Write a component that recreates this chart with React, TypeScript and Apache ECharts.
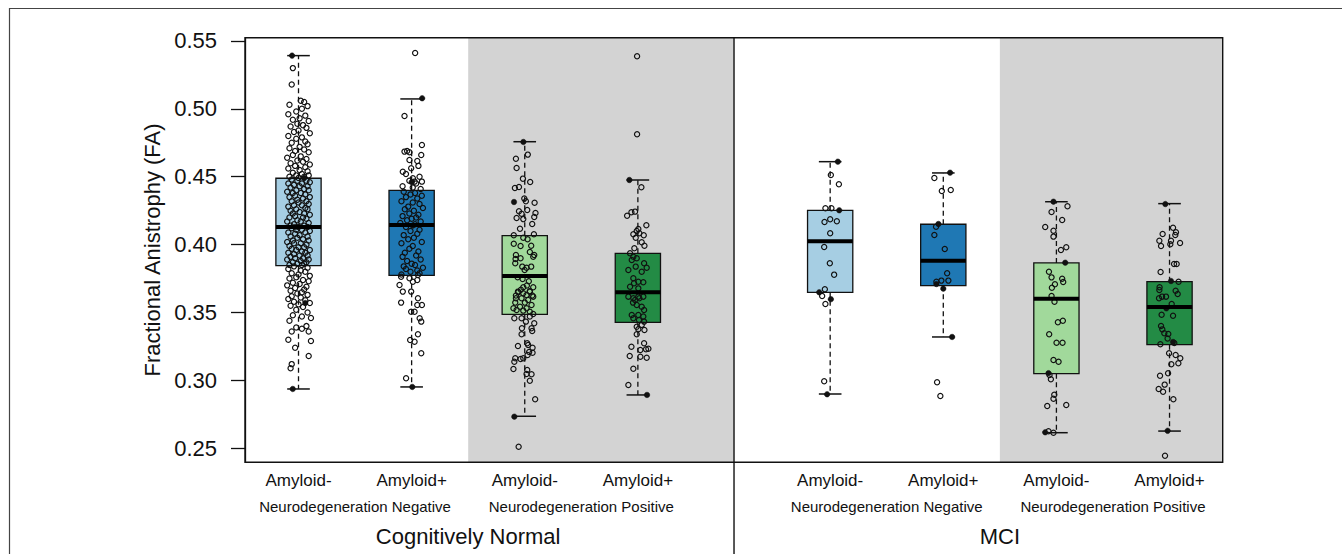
import React, { useEffect, useRef } from "react";
import * as echarts from "echarts";

// ---------- data ----------
const POSITIONS = [1, 2, 3, 4, 5.7, 6.7, 7.7, 8.7];
const CATEGORY_LABELS = ["Amyloid-", "Amyloid+", "Amyloid-", "Amyloid+", "Amyloid-", "Amyloid+", "Amyloid-", "Amyloid+"];
const NEURO_POSITIONS = [1.5, 3.5, 6.2, 8.2];
const NEURO_LABELS = ["Neurodegeneration Negative", "Neurodegeneration Positive", "Neurodegeneration Negative", "Neurodegeneration Positive"];
const GROUP_POSITIONS = [2.5, 7.2];
const GROUP_LABELS = ["Cognitively Normal", "MCI"];
const Y_TICKS = [0.25, 0.3, 0.35, 0.4, 0.45, 0.5, 0.55];
const X_MIN = 0.527;
const X_MAX = 9.17;
const Y_MIN = 0.2397;
const Y_MAX = 0.5524;
const DIVIDER_AT = 4.85;
const SHADED_SPANS = [[2.5, 4.85], [7.2, 9.17]];
const Y_TITLE = "Fractional Anistrophy (FA)";

// [lower whisker, Q1, median, Q3, upper whisker]
const BOX_STATS = [
  [0.2937, 0.3845, 0.413, 0.4489, 0.5392],
  [0.2952, 0.3774, 0.4145, 0.44, 0.5073],
  [0.2736, 0.3487, 0.3769, 0.4066, 0.4758],
  [0.2893, 0.3428, 0.3649, 0.3936, 0.4476],
  [0.29, 0.3649, 0.4025, 0.4253, 0.4611],
  [0.332, 0.3698, 0.3882, 0.415, 0.4528],
  [0.2615, 0.305, 0.3602, 0.3865, 0.4316],
  [0.2627, 0.3263, 0.354, 0.3727, 0.4302],
];
const BOX_FILLS = ["#a6cee3", "#1f78b4", "#a1d99b", "#238b45", "#a6cee3", "#1f78b4", "#a1d99b", "#238b45"];

// jittered observations: [horizontal jitter, FA]
const PTS_CN_NEG_AMYNEG = [
  [-0.05,0.530],[-0.06,0.518],[0.02,0.506],[-0.08,0.503],[0.05,0.505],[0.08,0.502],[0.03,0.500],[-0.02,0.498],[-0.09,0.496],[0.06,0.495],
  [0.01,0.493],[-0.05,0.492],[0.09,0.491],[-0.01,0.489],[0.04,0.488],[-0.07,0.487],[0.07,0.486],[0.00,0.484],[-0.04,0.483],[0.10,0.482],
  [-0.09,0.480],[0.03,0.479],[-0.02,0.478],[0.06,0.476],[-0.06,0.475],[0.08,0.474],[0.01,0.472],[-0.08,0.471],[0.05,0.470],[-0.03,0.469],
  [0.09,0.468],[-0.05,0.466],[0.02,0.465],[-0.10,0.464],[0.07,0.463],[-0.01,0.462],[0.04,0.461],[-0.07,0.460],[0.10,0.459],[-0.03,0.458],
  [0.06,0.457],[-0.09,0.456],[0.01,0.455],[0.08,0.454],[-0.05,0.453],[0.03,0.452],[-0.02,0.451],[0.09,0.451],[-0.08,0.450],[0.05,0.450],[0.00,0.449],
  [-0.06,0.448],[0.07,0.447],[-0.01,0.447],[0.10,0.446],[-0.09,0.445],[0.03,0.445],[-0.04,0.444],[0.08,0.443],[0.01,0.443],[-0.07,0.442],
  [0.05,0.441],[-0.02,0.440],[0.09,0.440],[-0.10,0.439],[0.02,0.438],[-0.05,0.438],[0.06,0.437],[-0.03,0.436],[0.10,0.435],[-0.08,0.435],
  [0.04,0.434],[-0.01,0.433],[0.07,0.432],[-0.06,0.432],[0.00,0.431],[0.09,0.430],[-0.04,0.429],[0.03,0.429],[-0.09,0.428],[0.06,0.427],
  [-0.02,0.426],[0.08,0.426],[-0.07,0.425],[0.01,0.424],[0.05,0.423],[-0.05,0.423],[0.10,0.422],[-0.03,0.421],[0.04,0.420],[-0.08,0.420],
  [0.07,0.419],[-0.01,0.418],[0.02,0.417],[-0.10,0.417],[0.09,0.416],[-0.04,0.415],[0.05,0.414],[-0.07,0.414],[0.00,0.413],[0.08,0.413],
  [-0.06,0.412],[0.03,0.411],[-0.02,0.411],[0.10,0.410],[-0.09,0.409],[0.06,0.409],[-0.03,0.408],[0.01,0.407],[-0.07,0.406],[0.08,0.406],
  [-0.01,0.405],[0.04,0.404],[-0.05,0.403],[0.09,0.403],[-0.10,0.402],[0.02,0.401],[-0.04,0.401],[0.07,0.400],[-0.08,0.399],[0.05,0.398],
  [0.00,0.398],[-0.06,0.397],[0.10,0.396],[-0.02,0.396],[0.03,0.395],[-0.09,0.394],[0.06,0.394],[-0.04,0.393],[0.08,0.392],[0.01,0.392],
  [-0.07,0.391],[0.04,0.390],[-0.03,0.390],[0.09,0.389],[-0.10,0.389],[0.02,0.388],[-0.05,0.387],[0.07,0.387],[-0.01,0.386],[0.05,0.386],
  [-0.08,0.385],[0.03,0.385],
  [-0.04,0.384],[0.08,0.383],[-0.09,0.382],[0.02,0.381],[0.06,0.380],[-0.06,0.379],[0.00,0.378],[0.10,0.377],[-0.02,0.376],[-0.08,0.375],
  [0.04,0.374],[0.09,0.373],[-0.05,0.372],[0.01,0.371],[-0.10,0.370],[0.07,0.369],[-0.03,0.368],[0.05,0.367],[-0.07,0.366],[0.03,0.365],
  [-0.01,0.364],[0.08,0.363],[-0.06,0.362],[0.02,0.361],[-0.09,0.360],[0.06,0.359],[-0.04,0.358],[0.10,0.357],[0.00,0.356],[-0.07,0.355],
  [0.04,0.354],[-0.02,0.352],[0.08,0.350],[-0.05,0.348],[0.03,0.347],[0.11,0.346],[-0.08,0.344],[0.07,0.340],[-0.02,0.339],[0.03,0.338],
  [-0.06,0.336],[0.09,0.336],[-0.09,0.330],[0.11,0.329],[-0.03,0.324],[0.09,0.318],[-0.06,0.312],[-0.07,0.309],
];
const PTS_CN_NEG_AMYPOS = [
  [0.031,0.5412],[-0.063,0.4948],[-0.063,0.4685],[-0.04,0.469],[-0.019,0.468],[0.091,0.4734],[0.085,0.466],[0.05,0.4616],[-0.019,0.4624],
  [-0.078,0.4537],[-0.004,0.4562],[0.011,0.4489],[0.026,0.4464],[0.091,0.4464],[0.06,0.458],[-0.05,0.452],[0.07,0.450],[-0.02,0.447],
  [0.04,0.445],[-0.08,0.443],[0.01,0.442],[0.08,0.441],
  [-0.07,0.439],[0.03,0.438],[-0.01,0.437],[0.09,0.436],[-0.05,0.435],[0.05,0.434],[-0.09,0.432],[0.01,0.431],[0.07,0.430],[-0.03,0.428],
  [0.10,0.427],[-0.06,0.426],[0.02,0.425],[-0.02,0.423],[0.06,0.422],[-0.08,0.421],[0.04,0.420],[0.00,0.419],[-0.04,0.418],[0.08,0.417],
  [-0.10,0.416],[0.03,0.415],[-0.05,0.413],[0.07,0.411],[-0.01,0.410],[0.05,0.408],[-0.07,0.407],[0.02,0.405],[-0.03,0.404],[0.09,0.402],
  [-0.09,0.401],[0.01,0.399],[-0.02,0.397],[0.06,0.395],[-0.06,0.394],[0.04,0.392],[-0.08,0.391],[0.08,0.389],[-0.04,0.388],[0.00,0.386],
  [0.03,0.385],[-0.07,0.384],[0.10,0.383],[-0.05,0.382],[0.05,0.381],[-0.01,0.380],[0.07,0.379],[-0.09,0.378],
  [-0.093,0.3764],[-0.019,0.3752],[0.056,0.3776],[0.011,0.3727],[0.05,0.374],[-0.107,0.3703],[-0.078,0.3654],[-0.004,0.3654],[0.056,0.3605],
  [-0.093,0.3573],[0.05,0.3556],[0.091,0.3556],[0.026,0.3506],[0.071,0.3458],[-0.004,0.3506],[0.085,0.3433],[-0.013,0.3298],[0.026,0.3285],
  [0.056,0.334],[0.085,0.32],[-0.049,0.3016],
];
const PTS_CN_POS_AMYNEG = [
  [0.027,0.4663],[-0.078,0.4633],[-0.072,0.4565],[-0.016,0.4486],[0.048,0.4461],[-0.087,0.4417],[-0.051,0.4425],[-0.004,0.4339],[0.01,0.4319],
  [0.087,0.4309],[-0.051,0.4246],[0.022,0.4255],[0.095,0.4233],[-0.028,0.4228],[-0.072,0.4196],[-0.013,0.4188],[0.084,0.4203],[0.066,0.4152],
  [-0.042,0.4117],[-0.097,0.4069],[0.081,0.4076],[0.025,0.404],[-0.013,0.4051],[-0.097,0.4007],[-0.037,0.399],[0.057,0.3992],[-0.078,0.3924],
  [0.075,0.3911],[0.045,0.3946],[-0.081,0.3894],[-0.037,0.3899],[0.084,0.3924],[-0.084,0.3863],[-0.022,0.3838],[0.016,0.383],[0.057,0.3838],
  [-0.001,0.3813],[-0.063,0.376],[-0.019,0.3747],[0.036,0.373],[0.019,0.3699],[0.075,0.3686],[-0.013,0.3686],[-0.034,0.3667],[-0.057,0.365],
  [0.045,0.3657],[-0.078,0.3625],[0.016,0.3629],[0.066,0.3625],[-0.06,0.3654],[-0.013,0.3642],[0.045,0.3654],[-0.078,0.3605],[-0.028,0.3605],
  [0.03,0.3592],[0.075,0.3617],[-0.084,0.3573],[0.001,0.3573],[0.06,0.3556],[-0.1,0.3531],[-0.042,0.3543],[0.016,0.3531],[-0.072,0.3519],
  [-0.013,0.3514],[0.045,0.3506],[0.075,0.3489],[-0.092,0.3458],[-0.028,0.3458],[0.045,0.347],[0.01,0.3433],[0.084,0.3421],[-0.025,0.3384],
  [-0.028,0.334],[0.06,0.3384],[0.066,0.3364],[-0.06,0.3254],[0.022,0.3274],[0.03,0.3261],[0.069,0.3241],[0.039,0.3209],[0.069,0.3204],
  [-0.013,0.3163],[-0.037,0.3158],[0.025,0.3187],[-0.084,0.3163],[-0.092,0.3138],[-0.1,0.3084],[0.022,0.3077],[0.06,0.3045],[0.016,0.3047],
  [0.045,0.2998],[0.092,0.2861],[-0.054,0.2512],
];
const PTS_CN_POS_AMYPOS = [
  [-0.007,0.5387],[-0.007,0.4813],[0.031,0.4422],[-0.095,0.4213],[-0.057,0.4238],[-0.025,0.4243],[0.075,0.4143],[0.004,0.4115],[-0.01,0.4101],
  [0.013,0.4084],[-0.04,0.4076],[0.052,0.4069],[-0.019,0.4051],[0.034,0.4017],[0.058,0.3992],[-0.031,0.3973],[-0.069,0.3936],[-0.04,0.3911],
  [-0.054,0.3887],[-0.01,0.3899],[0.055,0.3863],[-0.019,0.3838],[0.078,0.383],[-0.084,0.3813],[0.034,0.3801],[-0.04,0.3752],[0.004,0.3727],
  [0.048,0.3723],[-0.069,0.369],[0.004,0.3678],[-0.034,0.3715],[-0.084,0.3617],[0.004,0.3617],[-0.04,0.3605],[-0.025,0.3592],[0.013,0.3605],
  [0.048,0.3617],[-0.043,0.3573],[-0.01,0.3556],[0.034,0.3543],[0.055,0.3519],[-0.054,0.3482],[0.004,0.3482],[0.048,0.347],[-0.04,0.3458],
  [0.01,0.3445],[0.055,0.3433],[0.034,0.3409],[-0.01,0.3396],[0.058,0.3372],[0.004,0.3377],[-0.01,0.334],[0.055,0.3273],[-0.057,0.3248],
  [0.022,0.3224],[0.072,0.3229],[0.093,0.3234],[-0.072,0.318],[0.022,0.3175],[0.078,0.3167],[-0.04,0.3086],[-0.084,0.2966],
];
const PTS_MCI_NEG_AMYNEG = [
  [0.006,0.4513],[0.077,0.4444],[-0.042,0.4268],[0.011,0.4268],[-0.05,0.4167],[0,0.4187],[0.059,0.4172],[0,0.4084],[-0.053,0.3983],
  [-0.003,0.3863],[0.035,0.3779],[-0.047,0.3671],[-0.071,0.3622],[-0.042,0.3563],[-0.053,0.2994],
];
const PTS_MCI_NEG_AMYPOS = [
  [-0.079,0.4491],[-0.013,0.4395],[0.066,0.4403],[-0.064,0.4132],[-0.079,0.4071],[0.013,0.3968],[0.034,0.3789],[-0.017,0.3735],
  [0.045,0.3735],[-0.061,0.3726],[-0.055,0.2986],[-0.026,0.2885],
];
const PTS_MCI_POS_AMYNEG = [
  [0.098,0.4282],[-0.043,0.4241],[0.051,0.4182],[-0.099,0.413],[-0.026,0.4103],[-0.026,0.4059],[0.04,0.3961],[0.087,0.3981],[-0.066,0.3801],
  [-0.043,0.3759],[0.051,0.3749],[0.06,0.3725],[-0.013,0.3708],[-0.04,0.3683],[-0.043,0.3622],[-0.017,0.358],[0.057,0.344],[0.013,0.3428],
  [-0.064,0.334],[0.001,0.3278],[0.054,0.3278],[-0.026,0.315],[0.019,0.3138],[-0.061,0.304],[-0.049,0.3008],[-0.019,0.2895],[-0.026,0.2865],
  [-0.081,0.2812],[0.087,0.2819],[-0.07,0.2625],[-0.026,0.2615],
];
const PTS_MCI_POS_AMYPOS = [
  [0.031,0.4125],[-0.061,0.4078],[0.057,0.4091],[0.051,0.4071],[-0.09,0.4029],[0.013,0.4029],[-0.075,0.399],[0.007,0.4003],[0.093,0.4012],
  [0.04,0.3858],[0.063,0.3858],[-0.079,0.3799],[0.08,0.3727],[-0.088,0.3686],[-0.09,0.3666],[0.054,0.3661],[0.072,0.3637],[-0.093,0.3605],
  [-0.066,0.3617],[-0.031,0.3617],[0.019,0.3563],[-0.07,0.3484],[0.031,0.3477],[-0.075,0.3401],[-0.064,0.3376],[-0.046,0.3347],[-0.011,0.3342],
  [-0.017,0.3308],[0.042,0.3276],[-0.081,0.3266],[-0.004,0.32],[0.054,0.3187],[0.095,0.3163],[0.016,0.3119],[0.078,0.3126],[-0.013,0.3053],
  [-0.084,0.3035],[-0.043,0.2969],[-0.096,0.2937],[-0.057,0.2917],[0.034,0.2861],[-0.04,0.2446],
];
const OPEN_POINTS = [
  PTS_CN_NEG_AMYNEG, PTS_CN_NEG_AMYPOS, PTS_CN_POS_AMYNEG, PTS_CN_POS_AMYPOS,
  PTS_MCI_NEG_AMYNEG, PTS_MCI_NEG_AMYPOS, PTS_MCI_POS_AMYNEG, PTS_MCI_POS_AMYPOS,
];
// observations drawn as filled dots (they sit on the box statistics)
const FILLED_POINTS = [
  [[-0.057,0.5392],[-0.051,0.2937],[0.05,0.449],[-0.03,0.413],[0.06,0.357]],
  [[0.093,0.5078],[0.006,0.2952],[0.0,0.446],[0.01,0.414]],
  [[-0.012,0.4756],[-0.092,0.2733],[-0.095,0.4314]],
  [[-0.075,0.4476],[0.081,0.2893]],
  [[0.068,0.4611],[0.08,0.4253],[-0.097,0.3649],[0.006,0.3598],[-0.027,0.2898]],
  [[0.06,0.453],[-0.043,0.4152],[-0.061,0.371],[0,0.3676],[0.078,0.332]],
  [[-0.026,0.4316],[0.078,0.3867],[-0.07,0.3053],[-0.099,0.2618]],
  [[-0.037,0.4299],[0.013,0.3732],[-0.028,0.3531],[0.031,0.3283],[-0.017,0.2629]],
];

// ---------- layout ----------
const W = 1342;
const H = 554;
const G_LEFT = 245;
const G_TOP = 37.7;
const G_RIGHT = 119.3;
const G_BOTTOM = 91.7;
const FONT = "'Liberation Sans', Arial, Helvetica, sans-serif";
const BOX_HALF = 0.2;
const CAP_HALF = 0.1;

function labelAt(positions: number[], labels: string[]) {
  return (v: number) => {
    const i = positions.findIndex((p) => Math.abs(p - v) < 1e-6);
    return i >= 0 ? labels[i] : "";
  };
}

function hiddenXAxis(positions: number[], labels: string[], size: number, margin: number) {
  return {
    type: "value",
    min: X_MIN,
    max: X_MAX,
    position: "bottom",
    axisLine: { show: false },
    axisTick: { show: false },
    splitLine: { show: false },
    axisLabel: {
      customValues: positions,
      formatter: labelAt(positions, labels),
      fontSize: size,
      fontFamily: FONT,
      color: "#111",
      margin,
      hideOverlap: false,
    },
  };
}

export default function App() {
  const ref = useRef<HTMLDivElement>(null);

  useEffect(() => {
    document.body.style.margin = "0";
    if (!ref.current) return;
    const chart = echarts.init(ref.current, undefined, { renderer: "svg" });

    const boxData = POSITIONS.map((p, i) => [p, ...BOX_STATS[i]]);
    const openData: number[][] = [];
    OPEN_POINTS.forEach((grp, g) => grp.forEach(([dx, y]) => openData.push([POSITIONS[g] + dx, y])));
    const filledData: number[][] = [];
    FILLED_POINTS.forEach((grp, g) => grp.forEach(([dx, y]) => filledData.push([POSITIONS[g] + dx, y])));

    chart.setOption({
      animation: false,
      grid: { left: G_LEFT, top: G_TOP, right: G_RIGHT, bottom: G_BOTTOM, containLabel: false },
      xAxis: [
        hiddenXAxis(POSITIONS, CATEGORY_LABELS, 17, 10),
        hiddenXAxis(NEURO_POSITIONS, NEURO_LABELS, 15, 37),
        hiddenXAxis(GROUP_POSITIONS, GROUP_LABELS, 22, 63),
      ],
      yAxis: {
        type: "value",
        min: Y_MIN,
        max: Y_MAX,
        name: Y_TITLE,
        nameLocation: "middle",
        nameRotate: 90,
        nameGap: 81,
        nameTextStyle: { fontSize: 22, fontFamily: FONT, color: "#111" },
        axisLine: { show: true, lineStyle: { color: "#111", width: 1.3 } },
        axisTick: { show: true, customValues: Y_TICKS, length: 14, lineStyle: { color: "#111", width: 1.3 } },
        splitLine: { show: false },
        axisLabel: {
          customValues: Y_TICKS,
          formatter: (v: number) => v.toFixed(2),
          fontSize: 22,
          fontFamily: FONT,
          color: "#111",
          margin: 28,
        },
      },
      series: [
        {
          type: "custom",
          z: 1,
          silent: true,
          data: SHADED_SPANS,
          encode: { x: [0, 1] },
          renderItem: (params: any, api: any) => {
            const a = api.coord([api.value(0), Y_MAX]);
            const b = api.coord([api.value(1), Y_MIN]);
            return {
              type: "rect",
              shape: { x: a[0], y: a[1], width: b[0] - a[0], height: b[1] - a[1] },
              style: { fill: "#d3d3d3" },
            };
          },
        },
        {
          type: "custom",
          z: 3,
          silent: true,
          data: boxData,
          encode: { x: 0, y: [1, 2, 3, 4, 5] },
          renderItem: (params: any, api: any) => {
            const p = api.value(0);
            const lw = api.value(1), q1 = api.value(2), med = api.value(3), q3 = api.value(4), uw = api.value(5);
            const tl = api.coord([p - BOX_HALF, q3]);
            const br = api.coord([p + BOX_HALF, q1]);
            const c = api.coord([p, med]);
            const up = api.coord([p, uw]);
            const lo = api.coord([p, lw]);
            const capL = api.coord([p - CAP_HALF, uw])[0];
            const capR = api.coord([p + CAP_HALF, uw])[0];
            const dashed = { stroke: "#111", lineWidth: 1.3, lineDash: [5, 3.5] };
            const solid = { stroke: "#111", lineWidth: 1.5 };
            return {
              type: "group",
              children: [
                { type: "line", shape: { x1: c[0], y1: tl[1], x2: c[0], y2: up[1] }, style: dashed },
                { type: "line", shape: { x1: c[0], y1: br[1], x2: c[0], y2: lo[1] }, style: dashed },
                { type: "line", shape: { x1: capL, y1: up[1], x2: capR, y2: up[1] }, style: solid },
                { type: "line", shape: { x1: capL, y1: lo[1], x2: capR, y2: lo[1] }, style: solid },
                {
                  type: "rect",
                  shape: { x: tl[0], y: tl[1], width: br[0] - tl[0], height: br[1] - tl[1] },
                  style: { fill: BOX_FILLS[params.dataIndex], stroke: "#111", lineWidth: 1.3 },
                },
              ],
            };
          },
        },
        {
          type: "scatter",
          z: 4,
          silent: true,
          symbol: "circle",
          symbolSize: 5.2,
          data: openData,
          itemStyle: { color: "rgba(0,0,0,0)", borderColor: "#111", borderWidth: 1.2, opacity: 1 },
        },
        {
          type: "scatter",
          z: 5,
          silent: true,
          symbol: "circle",
          symbolSize: 5.5,
          data: filledData,
          itemStyle: { color: "#111", borderColor: "#111", borderWidth: 0.5, opacity: 1 },
        },
        {
          type: "custom",
          z: 6,
          silent: true,
          data: boxData,
          encode: { x: 0, y: [3] },
          renderItem: (params: any, api: any) => {
            const p = api.value(0);
            const a = api.coord([p - BOX_HALF, api.value(3)]);
            const b = api.coord([p + BOX_HALF, api.value(3)]);
            return {
              type: "line",
              shape: { x1: a[0], y1: a[1], x2: b[0], y2: b[1] },
              style: { stroke: "#000", lineWidth: 4 },
            };
          },
        },
      ],
    });

    const xDiv = chart.convertToPixel({ xAxisIndex: 0 }, DIVIDER_AT) as number;
    const gw = W - G_LEFT - G_RIGHT;
    const gh = H - G_TOP - G_BOTTOM;
    chart.setOption({
      graphic: [
        {
          type: "rect",
          z: 100,
          silent: true,
          shape: { x: G_LEFT, y: G_TOP, width: gw, height: gh },
          style: { fill: "none", stroke: "#111", lineWidth: 1.4 },
        },
        {
          type: "line",
          z: 100,
          silent: true,
          shape: { x1: xDiv, y1: G_TOP, x2: xDiv, y2: H },
          style: { stroke: "#111", lineWidth: 1.4 },
        },
        {
          type: "line",
          z: 100,
          silent: true,
          shape: { x1: 9, y1: 8.5, x2: W, y2: 8.5 },
          style: { stroke: "#444", lineWidth: 1.2 },
        },
        {
          type: "line",
          z: 100,
          silent: true,
          shape: { x1: 9.5, y1: 8, x2: 9.5, y2: H },
          style: { stroke: "#444", lineWidth: 1.2 },
        },
      ],
    });

    return () => chart.dispose();
  }, []);

  return <div ref={ref} style={{ width: W, height: H }} />;
}
